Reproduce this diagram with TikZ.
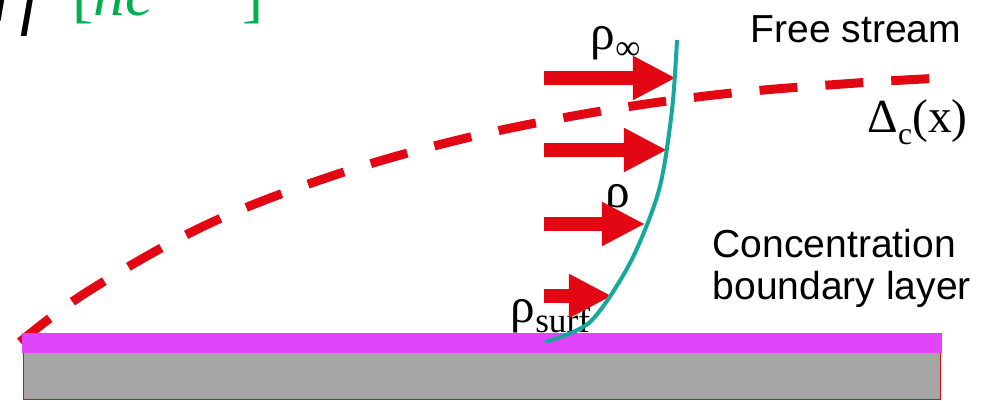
\documentclass[tikz,border=0pt]{standalone}
\usepackage{fontspec}
\setmainfont{Liberation Serif}
\setsansfont{Liberation Sans}
\usetikzlibrary{arrows.meta}

\begin{document}
\begin{tikzpicture}[x=0.01cm, y=-0.01cm, font=\sffamily]
    \definecolor{cred}{RGB}{227, 6, 19} % Red
    \definecolor{cteal}{RGB}{22, 168, 154} % Teal
    \definecolor{cpink}{RGB}{224, 68, 251} % Pink
    \definecolor{cgray}{RGB}{166, 166, 166} % Gray
    \definecolor{cgreen}{RGB}{0, 176, 80} % Green
    \tikzset{
        flow/.style={cred, line width=1.4mm, -{Triangle[length=4.3mm, width=4.1mm]}},
        greek/.style={font=\rmfamily\fontsize{14}{14}\selectfont, inner sep=0pt, anchor=base west},
        annot/.style={font=\sffamily\fontsize{11.1}{12.2}\selectfont, inner sep=0pt, anchor=base west, align=left}
    }

    \useasboundingbox (0,0) rectangle (997,401);
    \clip (0,0) rectangle (997,401);

    % Boundary layer edge
    \draw[cred, line width=0.9mm, dash pattern=on 3.8mm off 2.8mm]
        plot[smooth, tension=0.6] coordinates {(20,342) (87,292) (204,226) (329,177) (458,140) (590,113) (723,94) (857,83) (943,78)};

    % Plate
    \fill[cgray, draw=cred, line width=0.1mm] (23,353) rectangle (940,400);
    \fill[cpink] (22,333) rectangle (942,353);

    % Densities
    \node[greek] (rinf) at (590,50) {ρ\raisebox{-2.8pt}{\fontsize{10}{10}\selectfont ∞}};
    \node[greek] (rmid) at (605,208) {ρ};
    \node[greek] (rsurf) at (510,323) {ρ\raisebox{-2.8pt}{\fontsize{10}{10}\selectfont surf}};

    % Arrows
    \coordinate (s1) at (544,78);  \coordinate (t1) at (676,78);
    \coordinate (s2) at (544,150); \coordinate (t2) at (667,150);
    \coordinate (s3) at (544,224); \coordinate (t3) at (645,224);
    \coordinate (s4) at (544,296); \coordinate (t4) at (612,296);
    \foreach \i in {1,...,4}
        \draw[flow] (s\i) -- (t\i);

    % Profile
    \draw[cteal, line width=0.4mm]
        plot[smooth] coordinates {(545,342) (590,322) (630,263) (659,190) (672,110) (677,40)};

    % Labels
    \node[annot] (free) at (750,43) {Free stream};
    \node[annot] (cbl) at (712,300) {Concentration\\boundary layer};
    \node[font=\rmfamily\fontsize{13.5}{13.5}\selectfont, inner sep=0pt, anchor=base west] (delta) at (867,133)
        {Δ\raisebox{-3.4pt}{\fontsize{9}{9}\selectfont c}(x)};

    % Flux (cut off at the top)
    \node[font=\rmfamily\fontsize{20}{20}\selectfont, inner sep=0pt, anchor=base west] (flux) at (-8,22) {\textit{rf}};
    \node[font=\rmfamily\fontsize{18}{18}\selectfont, inner sep=0pt, anchor=base west, cgreen] (unit) at (72,16)
        {[\textit{nc}\raisebox{0.6em}{\fontsize{10}{10}\selectfont −2s−1}]};
\end{tikzpicture}
\end{document}
